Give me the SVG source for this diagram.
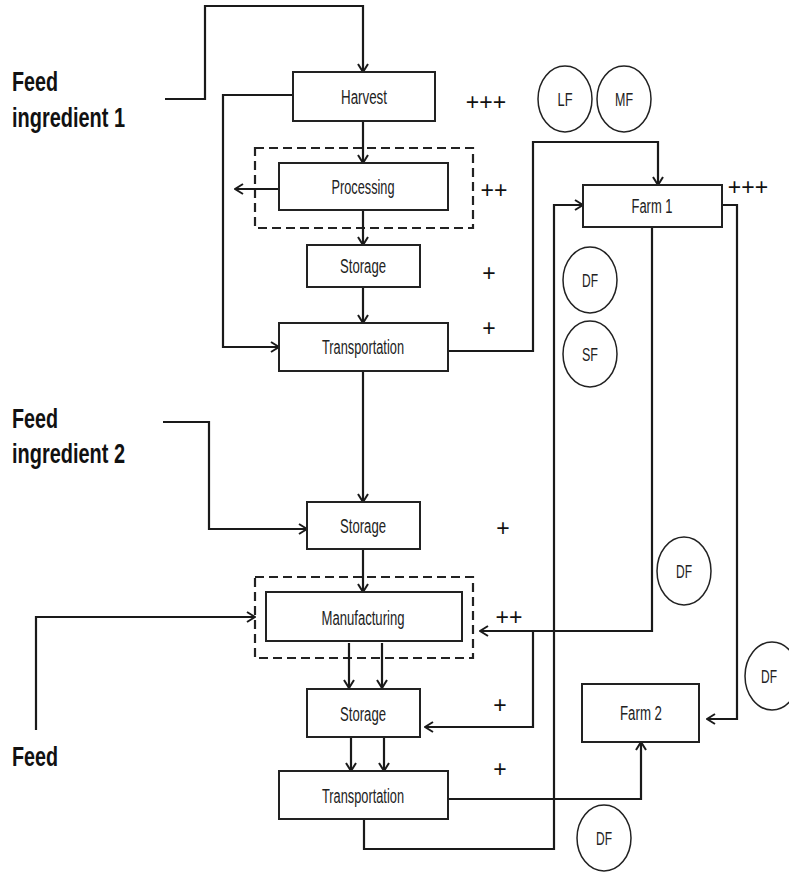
<svg xmlns="http://www.w3.org/2000/svg" width="789" height="873" viewBox="0 0 789 873">
<style>
.box{fill:#fff;stroke:#222;stroke-width:2}
.dash{fill:none;stroke:#222;stroke-width:2.2;stroke-dasharray:9 5}
.ell{fill:#fff;stroke:#222;stroke-width:1.5}
.c{fill:none;stroke:#1a1a1a;stroke-width:2.2}
.t{font-family:"Liberation Sans",Arial,sans-serif;font-size:20px;fill:#222;text-anchor:middle}
.s{font-family:"Liberation Sans",Arial,sans-serif;font-size:19px;fill:#222;text-anchor:middle}
.p{font-family:"Liberation Sans",Arial,sans-serif;font-size:23px;fill:#111;text-anchor:middle}
.L{font-family:"Liberation Sans",Arial,sans-serif;font-size:28px;font-weight:bold;fill:#111}
</style>
<defs>
<marker id="a" viewBox="0 0 10 12" refX="9" refY="6" markerWidth="10" markerHeight="12" markerUnits="userSpaceOnUse" orient="auto">
<path d="M1,1 L9,6 L1,11" fill="none" stroke="#1a1a1a" stroke-width="2"/>
</marker>
</defs>
<rect width="789" height="873" fill="#fff"/>

<g id="labels">
<text class="L" x="12" y="91" textLength="46" lengthAdjust="spacingAndGlyphs">Feed</text>
<text class="L" x="12" y="127" textLength="113" lengthAdjust="spacingAndGlyphs">ingredient 1</text>
<text class="L" x="12" y="428" textLength="46" lengthAdjust="spacingAndGlyphs">Feed</text>
<text class="L" x="12" y="463" textLength="113" lengthAdjust="spacingAndGlyphs">ingredient 2</text>
<text class="L" x="12" y="766" textLength="46" lengthAdjust="spacingAndGlyphs">Feed</text>
</g>

<g id="dashed-groups">
<rect class="dash" x="255" y="148" width="218" height="80"/>
<rect class="dash" x="255" y="577" width="218" height="81"/>
</g>

<g id="connectors">
<path class="c" d="M165,99 H205 V6 H363 V72" marker-end="url(#a)"/>
<path class="c" d="M293,95 H223 V347 H279" marker-end="url(#a)"/>
<path class="c" d="M363,121 V163" marker-end="url(#a)"/>
<path class="c" d="M279,189 H235" marker-end="url(#a)"/>
<path class="c" d="M363,210 V245" marker-end="url(#a)"/>
<path class="c" d="M363,287 V323" marker-end="url(#a)"/>
<path class="c" d="M448,351 H533 V142 H658 V185" marker-end="url(#a)"/>
<path class="c" d="M363,371 V502" marker-end="url(#a)"/>
<path class="c" d="M163,422 H209 V529 H307" marker-end="url(#a)"/>
<path class="c" d="M363,549 V592" marker-end="url(#a)"/>
<path class="c" d="M36,730 V617 H255" marker-end="url(#a)"/>
<path class="c" d="M349,643 V688" marker-end="url(#a)"/>
<path class="c" d="M382,643 V688" marker-end="url(#a)"/>
<path class="c" d="M351,737 V771" marker-end="url(#a)"/>
<path class="c" d="M384,737 V771" marker-end="url(#a)"/>
<path class="c" d="M448,799 H641 V742" marker-end="url(#a)"/>
<path class="c" d="M364,819 V849 H554 V205 H583" marker-end="url(#a)"/>
<path class="c" d="M652,227 V631 H480" marker-end="url(#a)"/>
<path class="c" d="M533,631 V727 H425" marker-end="url(#a)"/>
<path class="c" d="M722,205 H737 V719 H707" marker-end="url(#a)"/>
</g>

<g id="harvest"><rect class="box" x="293" y="72" width="142" height="49"/><text class="t" x="364" y="104" textLength="46" lengthAdjust="spacingAndGlyphs">Harvest</text></g>
<g id="processing"><rect class="box" x="279" y="163" width="169" height="47"/><text class="t" x="363" y="194" textLength="63" lengthAdjust="spacingAndGlyphs">Processing</text></g>
<g id="storage1"><rect class="box" x="307" y="245" width="113" height="42"/><text class="t" x="363" y="273" textLength="46" lengthAdjust="spacingAndGlyphs">Storage</text></g>
<g id="transportation1"><rect class="box" x="279" y="323" width="169" height="48"/><text class="t" x="363" y="354" textLength="82" lengthAdjust="spacingAndGlyphs">Transportation</text></g>
<g id="storage2"><rect class="box" x="307" y="502" width="113" height="47"/><text class="t" x="363" y="533" textLength="46" lengthAdjust="spacingAndGlyphs">Storage</text></g>
<g id="manufacturing"><rect class="box" x="266" y="592" width="196" height="49"/><text class="t" x="363" y="625" textLength="83" lengthAdjust="spacingAndGlyphs">Manufacturing</text></g>
<g id="storage3"><rect class="box" x="307" y="689" width="113" height="48"/><text class="t" x="363" y="721" textLength="46" lengthAdjust="spacingAndGlyphs">Storage</text></g>
<g id="transportation2"><rect class="box" x="279" y="771" width="169" height="48"/><text class="t" x="363" y="803" textLength="82" lengthAdjust="spacingAndGlyphs">Transportation</text></g>
<g id="farm1"><rect class="box" x="583" y="185" width="139" height="42"/><text class="t" x="652" y="213" textLength="41" lengthAdjust="spacingAndGlyphs">Farm 1</text></g>
<g id="farm2"><rect class="box" x="582" y="684" width="117" height="58"/><text class="t" x="641" y="720" textLength="42" lengthAdjust="spacingAndGlyphs">Farm 2</text></g>

<g id="lf"><ellipse class="ell" cx="565" cy="99" rx="27" ry="33"/><text class="s" x="565" y="106" textLength="15" lengthAdjust="spacingAndGlyphs">LF</text></g>
<g id="mf"><ellipse class="ell" cx="624" cy="99" rx="27" ry="33"/><text class="s" x="624" y="106" textLength="18" lengthAdjust="spacingAndGlyphs">MF</text></g>
<g id="df1"><ellipse class="ell" cx="590" cy="280" rx="27" ry="33"/><text class="s" x="590" y="287" textLength="16" lengthAdjust="spacingAndGlyphs">DF</text></g>
<g id="sf"><ellipse class="ell" cx="590" cy="354" rx="27" ry="33"/><text class="s" x="590" y="361" textLength="16" lengthAdjust="spacingAndGlyphs">SF</text></g>
<g id="df2"><ellipse class="ell" cx="684" cy="571" rx="27" ry="34"/><text class="s" x="684" y="578" textLength="16" lengthAdjust="spacingAndGlyphs">DF</text></g>
<g id="df3"><ellipse class="ell" cx="772" cy="676" rx="27" ry="34"/><text class="s" x="769" y="683" textLength="16" lengthAdjust="spacingAndGlyphs">DF</text></g>
<g id="df4"><ellipse class="ell" cx="604" cy="838" rx="27" ry="33"/><text class="s" x="604" y="845" textLength="16" lengthAdjust="spacingAndGlyphs">DF</text></g>

<g id="ratings">
<text class="p" x="486" y="110">+++</text>
<text class="p" x="494" y="198">++</text>
<text class="p" x="489" y="281">+</text>
<text class="p" x="489" y="336">+</text>
<text class="p" x="748" y="195">+++</text>
<text class="p" x="503" y="536">+</text>
<text class="p" x="509" y="625">++</text>
<text class="p" x="500" y="713">+</text>
<text class="p" x="500" y="777">+</text>
</g>
</svg>
